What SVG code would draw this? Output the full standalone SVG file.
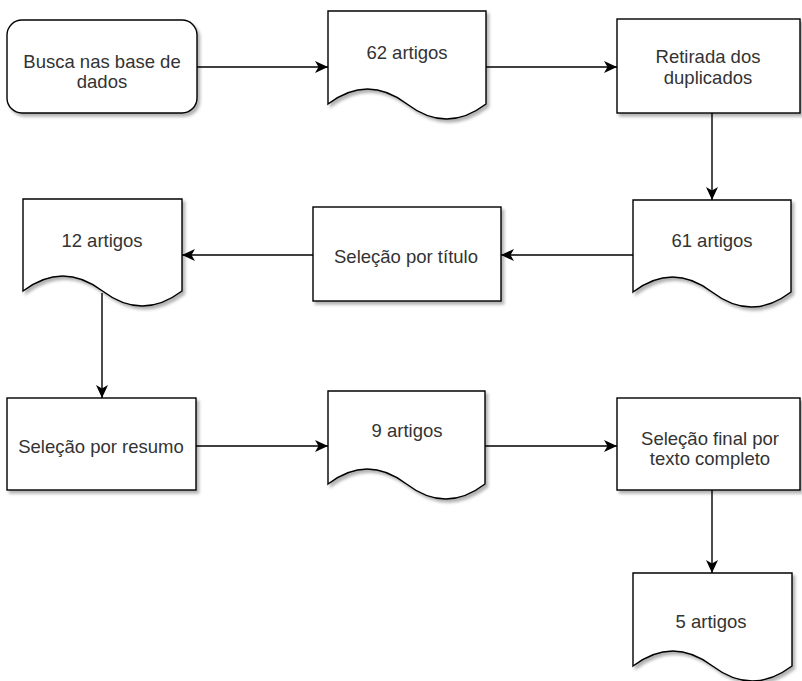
<svg xmlns="http://www.w3.org/2000/svg" width="802" height="681" viewBox="0 0 802 681">
<defs>
<filter id="sh" x="-10%" y="-10%" width="125%" height="130%">
<feDropShadow dx="2.5" dy="3" stdDeviation="1.6" flood-color="#000" flood-opacity="0.3"/>
</filter>
<marker id="arr" markerUnits="userSpaceOnUse" markerWidth="14" markerHeight="12" refX="13" refY="6" orient="auto">
<path d="M0,0 L13,6 L0,12 L3.5,6 Z" fill="#000"/>
</marker>
<style>
.s{fill:#fff;stroke:#000;stroke-width:1.4;filter:url(#sh)}
.t{font-family:"Liberation Sans",Arial,sans-serif;font-size:18.5px;fill:#333;text-anchor:middle}
.c{fill:none;stroke:#000;stroke-width:1.4;marker-end:url(#arr)}
</style>
</defs>
<rect width="802" height="681" fill="#fff"/>
<g id="connectors">
<line class="c" x1="197" y1="67" x2="328" y2="67"/>
<line class="c" x1="486" y1="67" x2="617" y2="67"/>
<line class="c" x1="712" y1="113" x2="712" y2="200"/>
<line class="c" x1="633" y1="255" x2="501" y2="255"/>
<line class="c" x1="313" y1="255" x2="182" y2="255"/>
<line class="c" x1="102" y1="293" x2="102" y2="398"/>
<line class="c" x1="196" y1="446" x2="328" y2="446"/>
<line class="c" x1="485" y1="446" x2="617" y2="446"/>
<line class="c" x1="712" y1="490" x2="712" y2="573"/>
</g>
<g id="busca">
<rect class="s" x="7" y="20" width="190" height="93" rx="15" ry="15"/>
<text class="t" x="102" y="68">Busca nas base de</text>
<text class="t" x="102" y="88">dados</text>
</g>
<g id="doc62">
<path class="s" d="M328,11 L486,11 L486,104 Q446.5,134 407,104 Q367.5,74 328,104 Z"/>
<text class="t" x="407" y="59">62 artigos</text>
</g>
<g id="retirada">
<rect class="s" x="617" y="19" width="183" height="94"/>
<text class="t" x="708" y="63">Retirada dos</text>
<text class="t" x="708" y="84">duplicados</text>
</g>
<g id="doc61">
<path class="s" d="M633,200 L791,200 L791,292 Q751.5,322 712,292 Q672.5,262 633,292 Z"/>
<text class="t" x="712" y="247">61 artigos</text>
</g>
<g id="titulo">
<rect class="s" x="313" y="207" width="188" height="94"/>
<text class="t" x="406" y="263">Seleção por título</text>
</g>
<g id="doc12">
<path class="s" d="M23,199 L182,199 L182,291 Q142.25,321 102.5,291 Q62.75,261 23,291 Z"/>
<text class="t" x="102" y="247">12 artigos</text>
</g>
<g id="resumo">
<rect class="s" x="7" y="398" width="189" height="92"/>
<text class="t" x="101" y="453">Seleção por resumo</text>
</g>
<g id="doc9">
<path class="s" d="M328,391 L485,391 L485,484 Q445.75,514 406.5,484 Q367.25,454 328,484 Z"/>
<text class="t" x="407" y="437">9 artigos</text>
</g>
<g id="final">
<rect class="s" x="617" y="398" width="183" height="92"/>
<text class="t" x="710" y="445">Seleção final por</text>
<text class="t" x="710" y="465">texto completo</text>
</g>
<g id="doc5">
<path class="s" d="M633,573 L792,573 L792,666 Q752.25,696 712.5,666 Q672.75,636 633,666 Z"/>
<text class="t" x="711" y="628">5 artigos</text>
</g>
</svg>
